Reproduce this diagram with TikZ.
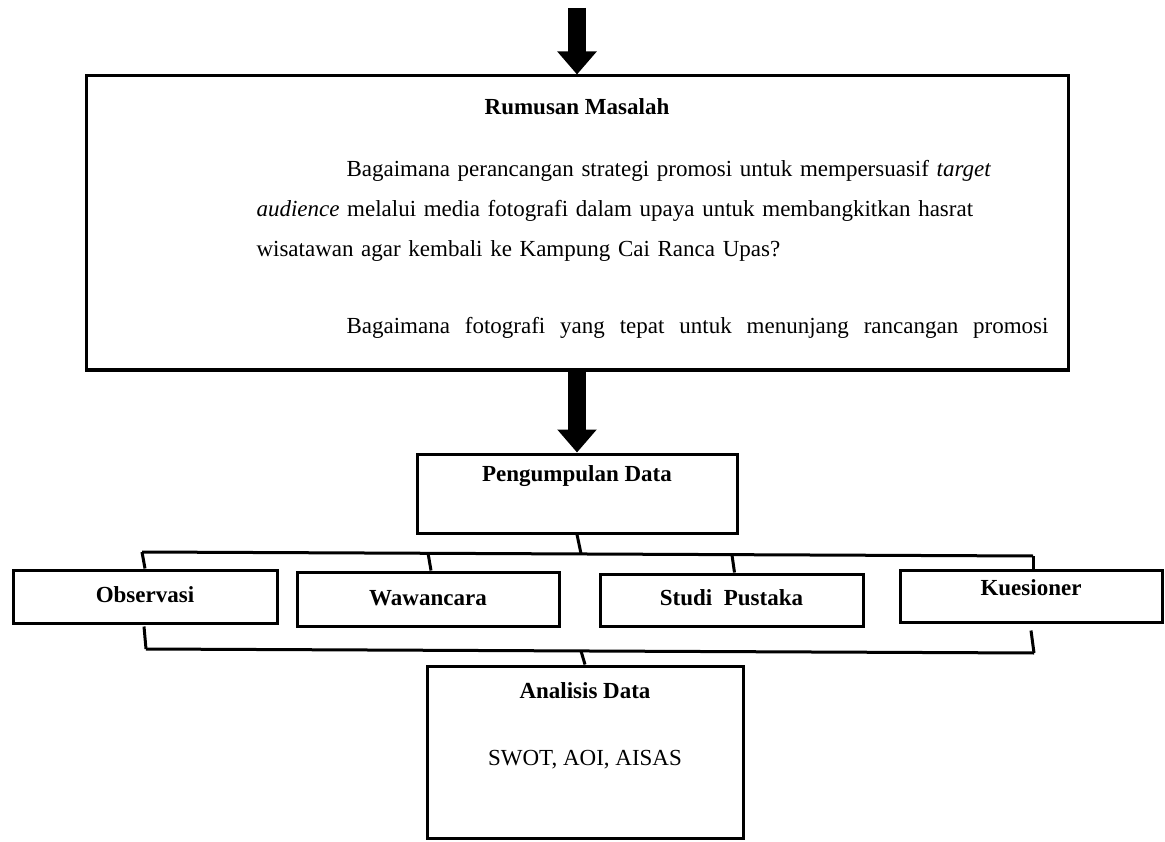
\documentclass[tikz,border=0pt]{standalone}
\usepackage{fontspec}
\setmainfont{Liberation Serif}
\usetikzlibrary{arrows.meta}

\begin{document}
\begin{tikzpicture}[x=1pt,y=-1pt,line width=3pt,color=black,
	kotak/.style={draw,rectangle,inner sep=0pt},
	teks/.style={font=\fontsize{23}{40}\selectfont,inner sep=0pt,text height=15pt,text depth=5pt},
	panah/.style={line width=18pt,-{Triangle[width=38pt,length=23pt]}},
	garis/.style={line width=3pt}]
		\useasboundingbox (0,0) rectangle (1165,842);
		% kotak-kotak
		\node[kotak,minimum width=982pt,minimum height=294pt] (rumusan) at (577,223) {};
		\node[kotak,minimum width=320pt,minimum height=79pt] (kumpul) at (577,493.5) {};
		\node[kotak,minimum width=264pt,minimum height=53pt] (obs) at (145,596.5) {};
		\node[kotak,minimum width=262pt,minimum height=54pt] (waw) at (428,599) {};
		\node[kotak,minimum width=263pt,minimum height=52pt] (studi) at (731.5,600) {};
		\node[kotak,minimum width=262pt,minimum height=52pt] (kues) at (1031,596) {};
		\node[kotak,minimum width=316pt,minimum height=172pt] (analisis) at (585,752) {};
		% teks
		\node[teks] (judul) at (577,110) {\bfseries Rumusan Masalah};
		\node[teks,text height=,text depth=,text width=792pt,align=left,anchor=base west] (tanya1) at (255,177)
			{\hspace*{90pt}\makebox[702pt][s]{Bagaimana perancangan strategi promosi untuk mempersuasif \textit{target}}\\
			\makebox[792pt][s]{\textit{audience} melalui media fotografi dalam upaya untuk membangkitkan hasrat}\\
			wisatawan agar kembali ke Kampung Cai Ranca Upas?};
		\node[teks,anchor=base west,text height=,text depth=] (tanya2) at (345,334)
			{\makebox[702pt][s]{Bagaimana fotografi yang tepat untuk menunjang rancangan promosi}};
		\node[teks] (tkumpul) at (577,476) {\bfseries Pengumpulan Data};
		\node[teks] (tobs) at (145,597) {\bfseries Observasi};
		\node[teks] (twaw) at (428,600) {\bfseries Wawancara};
		\node[teks] (tstudi) at (731.5,600) {\bfseries Studi\ \ Pustaka};
		\node[teks] (tkues) at (1031,590) {\bfseries Kuesioner};
		\node[teks] (tanalisis) at (585,693) {\bfseries Analisis Data};
		\node[teks] (tswot) at (585,760) {SWOT, AOI, AISAS};
		% panah
		\coordinate (awal) at (577,8);
		\draw[panah] (awal) -- (rumusan.north);
		\draw[panah] (rumusan.south) -- (kumpul.north);
		% garis penghubung atas
		\coordinate (ka) at (142,552);
		\coordinate (k1) at (428,553);
		\coordinate (k2) at (581,553.5);
		\coordinate (k3) at (732,555);
		\coordinate (kb) at (1033,556);
		\draw[garis] (ka) -- (kb);
		\draw[garis] (kumpul.south) -- (k2);
		\draw[garis] (ka) -- (obs.north);
		\draw[garis] (k1) -- ([xshift=3pt]waw.north);
		\draw[garis] (k3) -- ([xshift=3pt]studi.north);
		\draw[garis] (kb) -- ([xshift=2pt]kues.north);
		% garis penghubung bawah
		\coordinate (kc) at (146,649);
		\coordinate (k4) at (581,651);
		\coordinate (kd) at (1034,653);
		\draw[garis] (kc) -- (kd);
		\draw[garis] ([xshift=-1pt,yshift=-2pt]obs.south) -- (kc);
		\draw[garis] ([yshift=-7pt]kues.south) -- (kd);
		\draw[garis] (k4) -- (analisis.north);
\end{tikzpicture}
\end{document}
